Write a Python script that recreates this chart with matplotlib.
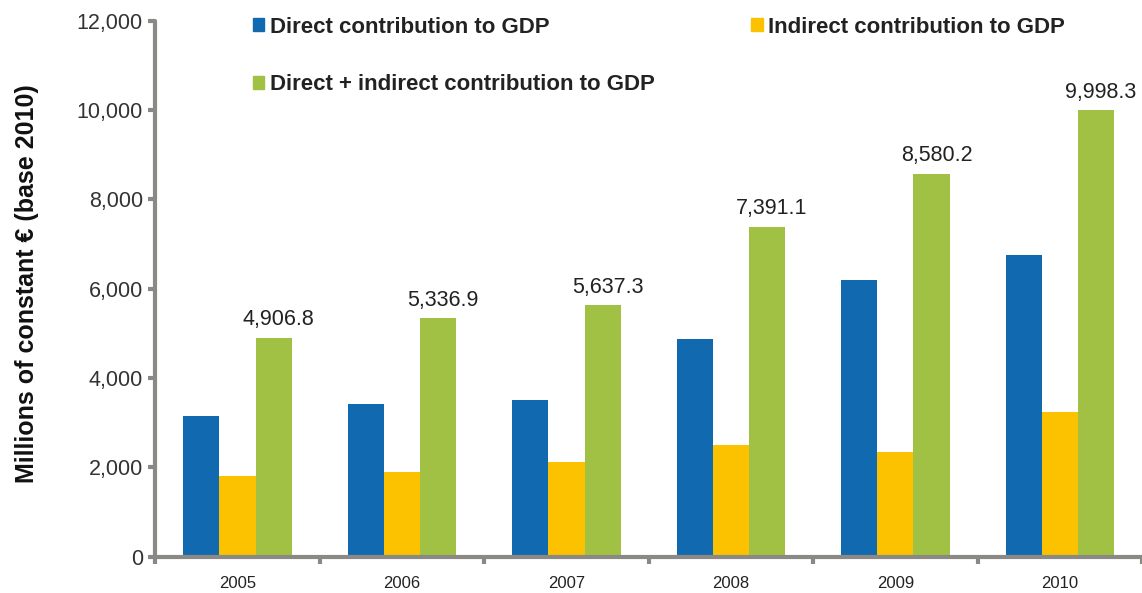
import matplotlib
matplotlib.use("Agg")
import matplotlib.pyplot as plt
from matplotlib.patches import Patch
import numpy as np

plt.rcParams['font.family'] = ['Liberation Sans', 'DejaVu Sans']

years = ["2005", "2006", "2007", "2008", "2009", "2010"]
direct = [3160, 3420, 3520, 4870, 6200, 6750]
indirect = [1800, 1910, 2130, 2510, 2340, 3250]
total = [4906.8, 5336.9, 5637.3, 7391.1, 8580.2, 9998.3]

c_direct = "#116ab0"
c_indirect = "#fcc200"
c_total = "#a0c143"
axis_grey = "#8b8985"

fig = plt.figure(figsize=(11.42, 5.93), dpi=100)
ax = fig.add_axes([0.136, 0.061, 0.864, 0.904])

x = np.arange(len(years))
w = 0.22
ax.bar(x - w, direct, w, color=c_direct)
ax.bar(x, indirect, w, color=c_indirect)
bars = ax.bar(x + w, total, w, color=c_total)

# value labels over the combined bars
for b, v in zip(bars, total):
    ax.text(b.get_x() + b.get_width() / 2 + 0.03, v + 160, f"{v:,.1f}",
            ha="center", va="bottom", fontsize=15.5, color="#222222")

ax.set_xlim(-0.5, len(years) - 0.5)
ax.set_ylim(0, 12000)
ax.set_yticks(np.arange(0, 12001, 2000))
ax.set_yticklabels([f"{t:,}" for t in range(0, 12001, 2000)])
ax.set_xticks(x)
ax.set_xticklabels(years)
ax.set_xticks(np.arange(-0.5, len(years)), minor=True)

for side in ["top", "right"]:
    ax.spines[side].set_visible(False)
for side in ["left", "bottom"]:
    ax.spines[side].set_color(axis_grey)
    ax.spines[side].set_linewidth(3)
    ax.spines[side].set_capstyle("round")

ax.tick_params(axis="y", direction="out", length=5, width=3, color=axis_grey,
               labelsize=15.5, labelcolor="#333333", pad=4)
ax.tick_params(axis="x", which="major", length=0, labelsize=12,
               labelcolor="#222222", pad=14)
ax.tick_params(axis="x", which="minor", direction="out", length=5, width=3,
               color=axis_grey)

ax.set_ylabel("Millions of constant € (base 2010)", fontsize=18,
              fontweight="bold", color="#111111")
ax.yaxis.set_label_coords(-0.118, 0.51)

handles = [Patch(color=c_direct), Patch(color=c_total), Patch(color=c_indirect)]
labels = ["Direct contribution to GDP",
          "Direct + indirect contribution to GDP",
          "Indirect contribution to GDP"]
leg = ax.legend(handles, labels, ncol=2, frameon=False,
                loc="upper left", bbox_to_anchor=(0.079, 1.045),
                prop={"size": 16, "weight": "bold"},
                handlelength=0.5, handleheight=0.5, handletextpad=0.25,
                labelspacing=1.65, columnspacing=4.35)
for t in leg.get_texts():
    t.set_color("#222222")

fig.savefig("out.png", dpi=100)
